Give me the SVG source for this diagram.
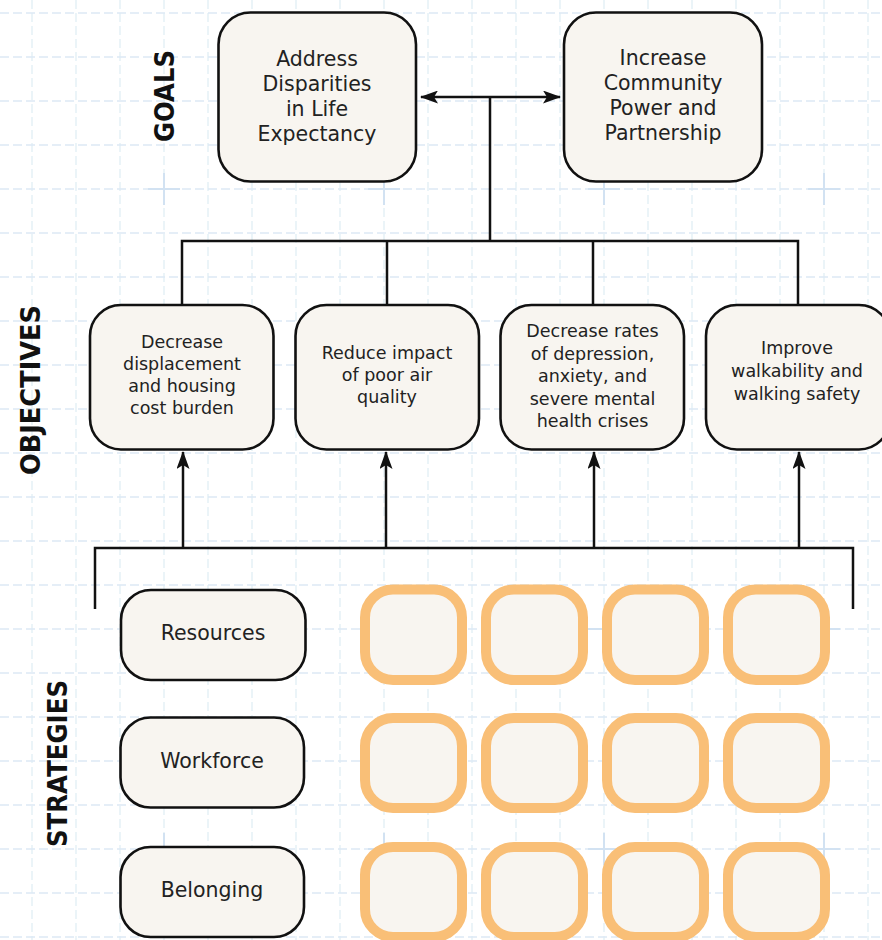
<svg xmlns="http://www.w3.org/2000/svg" width="882" height="940" viewBox="0 0 882 940">
<defs>
<style>
.gh{stroke:#dde9f5;stroke-width:1.4;stroke-dasharray:9 4;fill:none}
.gv{stroke:#e3f0f6;stroke-width:1.4;stroke-dasharray:9 4;fill:none}
.cr{stroke:#d2e2f2;stroke-width:2;fill:none}
.box{fill:#f8f5f0;stroke:#111;stroke-width:2.6}
.obox{fill:#f8f5f0;stroke:#f9bf77;stroke-width:10}
.ln{stroke:#111;stroke-width:2.5;fill:none}
.t{font-family:"DejaVu Sans","Liberation Sans",sans-serif;fill:#222;text-anchor:middle}
.g{font-size:20.5px}
.o{font-size:17.5px}
.s{font-size:20.5px}
.lab{font-family:"DejaVu Sans","Liberation Sans",sans-serif;font-weight:bold;font-size:26px;fill:#111;text-anchor:middle}
</style>
<marker id="ah" viewBox="0 0 18 13" refX="17" refY="6.5" markerWidth="18" markerHeight="13" markerUnits="userSpaceOnUse" orient="auto-start-reverse">
<path d="M0,0 L18,6.5 L0,13 L4,6.5 Z" fill="#111"/>
</marker>
</defs>
<rect width="882" height="940" fill="#ffffff"/>
<g id="grid">
<path class="gv" d="M32 0V940M76 0V940M120 0V940M164 0V940M208 0V940M252 0V940M296 0V940M340 0V940M384 0V940M428 0V940M472 0V940M516 0V940M560 0V940M604 0V940M648 0V940M692 0V940M736 0V940M780 0V940M824 0V940M868 0V940"/>
<path class="gh" d="M0 13H882M0 57H882M0 101H882M0 145H882M0 189H882M0 233H882M0 277H882M0 321H882M0 365H882M0 409H882M0 453H882M0 497H882M0 541H882M0 585H882M0 629H882M0 673H882M0 717H882M0 761H882M0 805H882M0 849H882M0 893H882M0 937H882"/>
<path class="cr" d="M148 189H180M164 173V205M368 189H400M384 173V205M588 189H620M604 173V205M808 189H840M824 173V205M148 409H180M164 393V425M368 409H400M384 393V425M588 409H620M604 393V425M808 409H840M824 393V425M148 629H180M164 613V645M368 629H400M384 613V645M588 629H620M604 613V645M808 629H840M824 613V645M148 849H180M164 833V865M368 849H400M384 833V865M588 849H620M604 833V865M808 849H840M824 833V865"/>
</g>
<g id="labels">
<text class="lab" transform="translate(174,96) rotate(-90)" textLength="92" lengthAdjust="spacingAndGlyphs">GOALS</text>
<text class="lab" transform="translate(39.5,390) rotate(-90)" textLength="170" lengthAdjust="spacingAndGlyphs">OBJECTIVES</text>
<text class="lab" transform="translate(67,763.5) rotate(-90)" textLength="167" lengthAdjust="spacingAndGlyphs">STRATEGIES</text>
</g>
<g id="connectors">
<line class="ln" x1="490" y1="97" x2="421" y2="97" marker-end="url(#ah)"/>
<line class="ln" x1="490" y1="97" x2="560" y2="97" marker-end="url(#ah)"/>
<path class="ln" d="M490 97V241M182 304V241H798V304M387 241V304M593 241V304"/>
<path class="ln" d="M95 609V548H853V609"/>
<line class="ln" x1="183" y1="548" x2="183" y2="452" marker-end="url(#ah)"/>
<line class="ln" x1="386" y1="548" x2="386" y2="452" marker-end="url(#ah)"/>
<line class="ln" x1="594" y1="548" x2="594" y2="452" marker-end="url(#ah)"/>
<line class="ln" x1="799" y1="548" x2="799" y2="452" marker-end="url(#ah)"/>
</g>
<g id="goal-life">
<rect class="box" x="218.5" y="12.5" width="197.5" height="169" rx="32"/>
<text class="t g" x="317" y="66">Address</text>
<text class="t g" x="317" y="91">Disparities</text>
<text class="t g" x="317" y="116">in Life</text>
<text class="t g" x="317" y="141">Expectancy</text>
</g>
<g id="goal-power">
<rect class="box" x="564" y="12.5" width="198" height="169" rx="32"/>
<text class="t g" x="663" y="65">Increase</text>
<text class="t g" x="663" y="90">Community</text>
<text class="t g" x="663" y="115">Power and</text>
<text class="t g" x="663" y="140">Partnership</text>
</g>
<g id="obj-housing">
<rect class="box" x="90" y="305" width="183.5" height="144.5" rx="31"/>
<text class="t o" x="182" y="348">Decrease</text>
<text class="t o" x="182" y="370">displacement</text>
<text class="t o" x="182" y="392">and housing</text>
<text class="t o" x="182" y="414">cost burden</text>
</g>
<g id="obj-air">
<rect class="box" x="295.5" y="305" width="183.5" height="144.5" rx="31"/>
<text class="t o" x="387" y="359">Reduce impact</text>
<text class="t o" x="387" y="381">of poor air</text>
<text class="t o" x="387" y="403">quality</text>
</g>
<g id="obj-mental">
<rect class="box" x="500.5" y="305" width="183.5" height="144.5" rx="31"/>
<text class="t o" x="592.5" y="337">Decrease rates</text>
<text class="t o" x="592.5" y="359.5">of depression,</text>
<text class="t o" x="592.5" y="382">anxiety, and</text>
<text class="t o" x="592.5" y="404.5">severe mental</text>
<text class="t o" x="592.5" y="427">health crises</text>
</g>
<g id="obj-walk">
<rect class="box" x="706" y="305" width="184" height="144.5" rx="31"/>
<text class="t o" x="797" y="354">Improve</text>
<text class="t o" x="797" y="377">walkability and</text>
<text class="t o" x="797" y="400">walking safety</text>
</g>
<g id="str-resources">
<rect class="box" x="121" y="590" width="184.5" height="90" rx="30"/>
<text class="t s" x="213" y="640">Resources</text>
</g>
<g id="str-workforce">
<rect class="box" x="120.5" y="717.5" width="183.5" height="90" rx="30"/>
<text class="t s" x="212" y="768">Workforce</text>
</g>
<g id="str-belonging">
<rect class="box" x="120.5" y="847" width="183.5" height="90" rx="30"/>
<text class="t s" x="212" y="897">Belonging</text>
</g>
<g id="placeholders">
<rect class="obox" x="365" y="589.5" width="97" height="90.5" rx="28"/>
<rect class="obox" x="486" y="589.5" width="97" height="90.5" rx="28"/>
<rect class="obox" x="607" y="589.5" width="97" height="90.5" rx="28"/>
<rect class="obox" x="728" y="589.5" width="97" height="90.5" rx="28"/>
<rect class="obox" x="365" y="718" width="97" height="90" rx="28"/>
<rect class="obox" x="486" y="718" width="97" height="90" rx="28"/>
<rect class="obox" x="607" y="718" width="97" height="90" rx="28"/>
<rect class="obox" x="728" y="718" width="97" height="90" rx="28"/>
<rect class="obox" x="365" y="847" width="97" height="90" rx="28"/>
<rect class="obox" x="486" y="847" width="97" height="90" rx="28"/>
<rect class="obox" x="607" y="847" width="97" height="90" rx="28"/>
<rect class="obox" x="728" y="847" width="97" height="90" rx="28"/>
</g>
</svg>
